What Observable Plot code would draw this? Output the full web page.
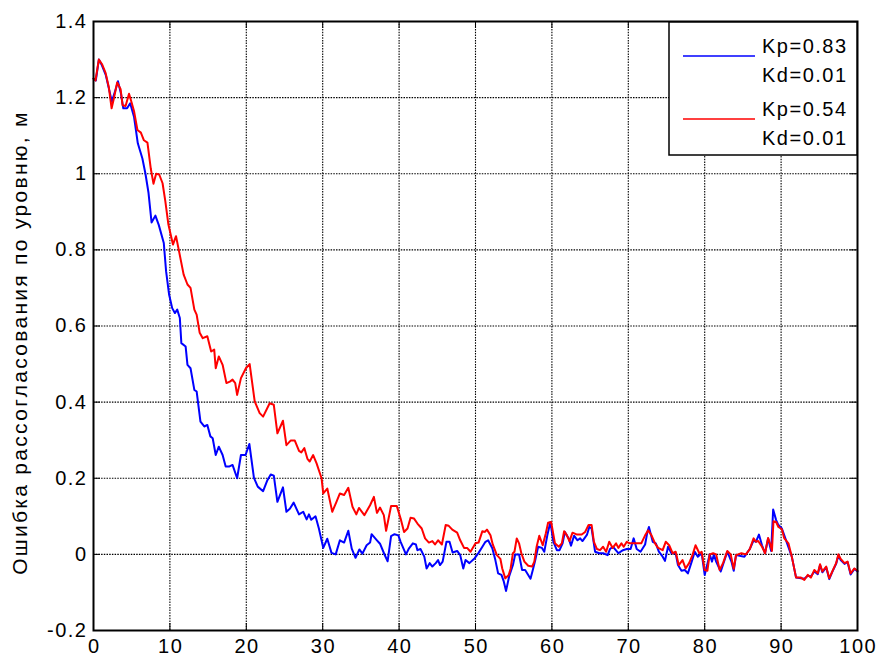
<!DOCTYPE html>
<html><head><meta charset="utf-8">
<script src="https://cdn.jsdelivr.net/npm/d3@7"></script>
<script src="https://cdn.jsdelivr.net/npm/@observablehq/plot@0.6"></script>
<style>html,body{margin:0;padding:0;background:#fff} svg{display:block}</style>
</head><body><div id="chart"></div>
<script>
const xTicks = [0,10,20,30,40,50,60,70,80,90,100];
const yTicks = [-0.2,0,0.2,0.4,0.6,0.8,1,1.2,1.4];
const yLabel = "Ошибка рассогласования по уровню, м";
const seriesNames = [["Kp=0.83","Kd=0.01"],["Kp=0.54","Kd=0.01"]];
const seriesColors = ["#0000ff","#ff0000"];

const blueX = [0,0.3,0.7,1.1,1.6,2.0,2.4,2.8,3.2,3.6,3.9,4.4,4.8,5.3,5.8,6.4,6.8,7.2,7.6,8.1,8.55,9.2,9.5,9.9,10.3,10.65,10.96,11.3,11.5,12.06,12.3,12.7,13.2,13.5,14.0,14.5,14.9,15.3,15.6,16.0,16.4,16.9,17.3,17.8,18.2,18.8,19.3,19.9,20.4,21.0,21.5,22.2,22.76,23.2,23.6,24.07,24.8,25.25,25.7,26.2,26.9,27.45,27.9,28.2,28.5,29.06,29.5,30.07,30.6,31.15,31.7,32.25,32.8,33.35,33.8,34.3,34.8,35.2,35.75,36.2,36.4,37.1,37.5,38.1,38.5,38.95,39.4,39.9,40.2,40.9,41.3,41.8,42.2,42.4,42.8,43.3,43.6,44.0,44.35,44.8,45.1,45.35,45.7,46.2,46.6,47.0,47.6,48.0,48.4,48.7,49.2,49.9,50.4,50.9,51.3,51.65,52.2,52.6,52.96,53.4,53.7,54.0,54.4,54.9,55.2,55.7,56.1,56.5,56.9,57.2,57.5,57.8,58.2,58.7,59.0,59.4,59.8,60.2,60.65,61.0,61.4,61.7,62.2,62.5,62.9,63.35,63.7,64.0,64.6,64.9,65.2,65.65,66.2,66.7,67.3,67.6,68.0,68.7,69.3,69.8,70.3,70.7,71.1,71.6,72.2,72.5,72.7,73.2,73.6,74.0,74.5,74.8,75.2,75.65,76.2,76.5,76.96,77.4,77.8,78.3,78.7,79.1,79.6,80.0,80.65,80.96,81.2,81.5,82.1,82.96,83.5,83.8,84.1,85.2,85.9,86.4,86.7,87.1,87.5,87.9,88.3,88.7,88.96,89.35,89.65,90.1,90.65,91.4,91.96,92.6,93.04,93.5,93.9,94.35,94.8,95.1,95.4,95.9,96.3,96.7,97.2,97.5,97.8,98.3,98.7,99.1,99.6,100];
const blueY = [1.25,1.245,1.30,1.285,1.26,1.225,1.19,1.215,1.243,1.21,1.172,1.172,1.185,1.15,1.08,1.04,1.0,0.95,0.872,0.89,0.865,0.818,0.744,0.682,0.647,0.634,0.643,0.621,0.555,0.546,0.498,0.489,0.432,0.428,0.349,0.336,0.340,0.31,0.305,0.261,0.283,0.261,0.231,0.231,0.235,0.20,0.261,0.261,0.29,0.201,0.178,0.166,0.195,0.21,0.207,0.138,0.176,0.112,0.12,0.136,0.105,0.112,0.092,0.105,0.091,0.10,0.068,0.017,0.041,0.004,0.0,0.037,0.031,0.062,0.015,-0.009,0.013,0.002,0.024,0.031,0.053,0.037,0.028,-0.001,-0.018,0.048,0.053,0.05,0.033,0.0,0.016,0.029,0.026,0.011,0.014,-0.006,-0.037,-0.023,-0.032,-0.023,-0.015,-0.028,-0.019,0.033,0.033,0.005,0.009,-0.002,-0.037,-0.015,-0.023,-0.010,0.004,0.02,0.033,0.037,0.016,-0.015,-0.05,-0.054,-0.071,-0.096,-0.058,-0.028,0.0,0.0,-0.041,-0.041,-0.054,-0.064,-0.041,-0.017,0.02,0.017,0.007,0.05,0.085,0.033,0.011,0.011,0.029,0.059,0.042,0.023,0.049,0.037,0.042,0.035,0.052,0.072,0.068,0.007,0.003,0.003,-0.002,0.014,0.02,0.003,0.011,0.014,0.014,0.042,0.014,0.007,0.026,0.059,0.072,0.033,0.029,0.007,-0.006,-0.017,0.02,0.003,0.003,-0.028,-0.043,-0.041,-0.05,-0.019,0.007,-0.006,0.003,-0.054,0.0,-0.019,0.0,-0.019,-0.045,0.007,-0.019,-0.043,-0.002,-0.006,0.014,0.037,0.033,0.052,0.024,0.003,0.042,0.009,0.118,0.09,0.077,0.068,0.037,-0.006,-0.061,-0.063,-0.064,-0.056,-0.058,-0.045,-0.052,-0.028,-0.047,-0.034,-0.065,-0.046,-0.025,-0.002,-0.015,-0.025,-0.02,-0.053,-0.038,-0.045];

const redX = [0,0.26,0.7,1.14,1.58,2.0,2.37,2.68,3.1,3.55,3.8,4.2,4.65,4.95,5.3,5.75,6.2,6.6,7.06,7.5,7.85,8.2,8.6,9.04,9.4,9.8,10.4,10.8,11.2,11.8,12.3,12.7,13.2,13.5,13.9,14.3,14.9,15.4,15.8,16.0,16.4,16.9,17.4,17.85,18.2,18.55,18.8,19.3,19.95,20.44,21.1,21.75,22.2,23.06,23.6,24.07,24.8,25.25,25.8,26.35,26.9,27.2,27.6,28.0,28.3,28.75,29.2,29.85,30.07,30.6,31.25,31.8,32.25,32.8,33.35,33.9,34.4,34.75,35.45,36.2,36.7,37.1,37.5,38.0,38.3,38.95,39.7,40.2,40.65,41.1,41.5,41.96,42.4,42.96,43.4,43.9,44.35,44.7,45.1,45.6,46.1,46.5,46.96,47.6,48.0,48.5,48.9,49.35,50.0,50.4,50.9,51.2,51.5,51.96,52.26,52.8,53.26,53.5,53.9,54.35,54.6,54.9,55.1,55.4,55.7,56.0,56.4,56.9,57.4,57.7,58.0,58.35,58.8,59.2,59.5,59.9,60.4,60.9,61.3,61.6,61.96,62.3,62.7,63.3,63.9,64.35,64.8,65.2,65.5,65.9,66.3,66.7,67.1,67.5,67.96,68.4,68.7,69.1,69.4,69.8,70.2,70.9,71.7,72.2,72.6,73.04,73.5,73.9,74.5,74.9,75.35,75.8,76.2,76.6,77.1,77.5,77.96,78.4,78.8,79.3,79.6,80.0,80.35,80.65,81.1,81.5,81.96,82.4,82.96,83.4,83.8,84.1,84.8,85.4,85.9,86.4,86.7,87.0,87.5,87.9,88.3,88.6,88.8,89.0,89.35,89.65,90.1,90.4,90.96,91.4,91.96,92.6,93.04,93.5,93.9,94.35,94.8,95.1,95.4,95.9,96.3,96.7,97.2,97.5,97.8,98.3,98.7,99.1,99.6,100];
const redY = [1.25,1.245,1.30,1.287,1.265,1.228,1.172,1.199,1.240,1.222,1.18,1.178,1.21,1.19,1.165,1.115,1.108,1.088,1.082,1.013,0.974,1.0,0.998,0.975,0.928,0.867,0.814,0.836,0.796,0.735,0.709,0.70,0.643,0.630,0.582,0.568,0.573,0.533,0.538,0.489,0.520,0.498,0.45,0.454,0.459,0.45,0.419,0.463,0.489,0.50,0.402,0.371,0.362,0.397,0.393,0.318,0.351,0.287,0.299,0.299,0.272,0.268,0.279,0.251,0.244,0.261,0.239,0.20,0.16,0.173,0.112,0.138,0.16,0.156,0.175,0.125,0.105,0.122,0.103,0.129,0.151,0.109,0.123,0.103,0.062,0.127,0.127,0.094,0.059,0.068,0.096,0.094,0.081,0.068,0.042,0.031,0.035,0.026,0.037,0.026,0.077,0.075,0.065,0.057,0.037,0.017,0.017,0.007,0.029,0.031,0.061,0.059,0.065,0.05,0.026,-0.002,-0.012,-0.037,-0.063,-0.054,-0.037,0.003,0.007,0.042,0.029,0.003,-0.019,-0.030,-0.032,-0.019,0.02,0.049,0.024,0.055,0.083,0.085,0.029,0.02,0.029,0.061,0.05,0.035,0.057,0.052,0.052,0.059,0.077,0.077,0.033,0.014,0.011,0.02,0.007,0.033,0.017,0.029,0.017,0.029,0.02,0.033,0.029,0.029,0.029,0.05,0.063,0.05,0.029,0.017,0.011,0.033,0.024,0.003,0.007,-0.028,-0.015,-0.037,-0.023,-0.002,0.024,0.003,0.007,-0.041,-0.043,0.0,0.003,0.0,-0.041,-0.023,0.009,0.0,-0.038,-0.002,0.003,0.0,0.014,0.042,0.033,0.035,0.02,0.003,0.043,0.026,0.009,0.087,0.085,0.072,0.066,0.043,0.029,-0.006,-0.061,-0.061,-0.067,-0.054,-0.061,-0.041,-0.05,-0.026,-0.045,-0.032,-0.063,-0.045,-0.023,0.0,-0.012,-0.023,-0.019,-0.05,-0.037,-0.043];

const blue = blueX.map((x, i) => ({x, y: blueY[i]}));
const red = redX.map((x, i) => ({x, y: redY[i]}));

const W = 879, H = 662, mL = 93, mR = 22, mT = 21, mB = 32;
const plotH = H - mT - mB, plotW = W - mL - mR, tickLen = 7;
const font = "'Liberation Sans', Arial, Helvetica, sans-serif";
const fmt = d => String(d);
const gridStyle = {stroke: "black", strokeOpacity: 1, strokeWidth: 1.1, strokeDasharray: "1.5,1.2"};

const svg = Plot.plot({
  width: W, height: H,
  marginLeft: mL, marginRight: mR, marginTop: mT, marginBottom: mB,
  style: {fontFamily: font, fontSize: "20px", letterSpacing: "1.5px", background: "white", color: "black", overflow: "visible"},
  x: {domain: [0, 100]},
  y: {domain: [-0.2, 1.4]},
  marks: [
    Plot.gridX(xTicks.slice(1, -1), gridStyle),
    Plot.gridY(yTicks.slice(1, -1), gridStyle),
    Plot.line(blue, {x: "x", y: "y", stroke: seriesColors[0], strokeWidth: 2}),
    Plot.line(red, {x: "x", y: "y", stroke: seriesColors[1], strokeWidth: 2}),
    Plot.tickX(xTicks, {x: d => d, insetTop: plotH - tickLen, stroke: "black", strokeWidth: 1}),
    Plot.tickX(xTicks, {x: d => d, insetBottom: plotH - tickLen, stroke: "black", strokeWidth: 1}),
    Plot.tickY(yTicks, {y: d => d, insetRight: plotW - tickLen, stroke: "black", strokeWidth: 1}),
    Plot.tickY(yTicks, {y: d => d, insetLeft: plotW - tickLen, stroke: "black", strokeWidth: 1}),
    Plot.frame({stroke: "black", strokeWidth: 2}),
    Plot.axisX(xTicks, {tickSize: 0, tickPadding: 8, tickFormat: fmt, label: null, fill: "black", dx: 0.75}),
    Plot.axisY(yTicks, {tickSize: 0, tickPadding: 6, tickFormat: fmt, label: null, fill: "black"})
  ]
});

const s = d3.select(svg);
s.append("text")
  .attr("transform", `translate(27,${mT + plotH / 2 + 17}) rotate(-90)`)
  .attr("text-anchor", "middle")
  .attr("font-family", font).attr("font-size", 21).attr("letter-spacing", "2.3px").attr("fill", "black")
  .text(yLabel);

const lg = s.append("g").attr("text-anchor", "start");
lg.append("rect").attr("x", 669).attr("y", 22).attr("width", 188).attr("height", 133)
  .attr("fill", "white").attr("stroke", "black").attr("stroke-width", 1.5);
seriesNames.forEach((lines, i) => {
  const y0 = 56 + i * 63;
  lg.append("line").attr("x1", 683).attr("x2", 755).attr("y1", y0).attr("y2", y0)
    .attr("stroke", seriesColors[i]).attr("stroke-width", 1.5);
  lines.forEach((t, j) => {
    lg.append("text").attr("x", 762).attr("y", y0 - 3 + j * 29)
      .attr("text-anchor", "start")
      .attr("font-family", font).attr("font-size", 20).attr("fill", "black")
      .text(t);
  });
});

document.getElementById("chart").appendChild(svg);
</script>
</body></html>
